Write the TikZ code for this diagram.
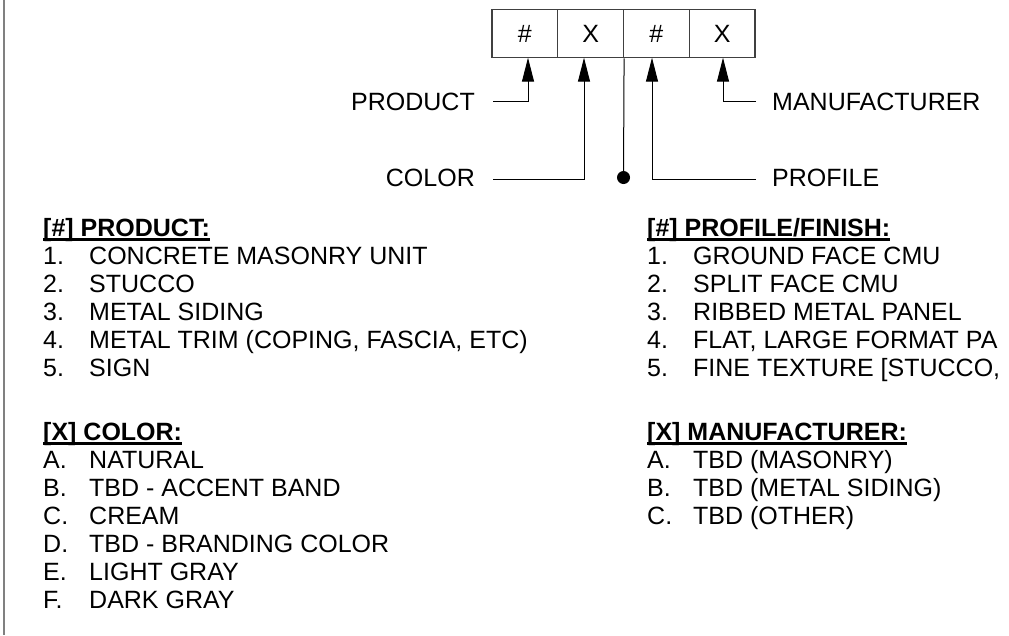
\documentclass[tikz,border=0pt]{standalone}
\usepackage{fontspec}
\setmainfont{Liberation Sans}
\usetikzlibrary{arrows.meta}
\begin{document}
\begin{tikzpicture}[x=1pt,y=-1pt,
  font=\fontsize{25}{28}\selectfont,
  cell/.style={draw=black!75, line width=1.2pt, minimum width=65.75pt, minimum height=48.2pt, inner sep=0pt},
  lblL/.style={inner sep=0pt, anchor=base east},
  lblR/.style={inner sep=0pt, anchor=base west},
  item/.style={inner sep=0pt, anchor=base west},
  hdr/.style={inner sep=0pt, anchor=base west, font=\fontsize{25}{28}\selectfont\bfseries},
  ul/.style={line width=2.2pt},
  lead/.style={line width=1pt},
  tipped/.style={lead, -{Triangle[length=24pt,width=12pt]}},
  dotnode/.style={circle, fill=black, inner sep=0pt, minimum size=13pt},
  border/.style={draw=black!50, line width=2pt}
]
\clip (0,0) rectangle (1009,635);
\fill[white] (0,0) rectangle (1009,635);
% left border
\coordinate (bt) at (3.7,0);
\coordinate (bb) at (3.7,635);
\draw[border] (bt) -- (bb);

% code cells
\node[cell] (c1) at (524.9,33.6) {\#};
\node[cell] (c2) at (590.6,33.6) {X};
\node[cell] (c3) at (656.4,33.6) {\#};
\node[cell] (c4) at (722.1,33.6) {X};

% labels
\node[lblL] (lprod) at (475,110) {PRODUCT};
\node[lblL] (lcol) at (475,186) {COLOR};
\node[lblR] (lman) at (772,110) {MANUFACTURER};
\node[lblR] (lprof) at (772,186) {PROFILE};

% leader ends and arrow tips
\coordinate (eprod) at (493,101);
\coordinate (ecol) at (493,179);
\coordinate (eman) at (756,101.5);
\coordinate (eprof) at (756,179);
\coordinate (tprod) at (528,57.7);
\coordinate (tcol) at (584,57.7);
\coordinate (tprof) at (652,57.7);
\coordinate (tman) at (723,57.7);

\draw[tipped] (eprod) -| (tprod);
\draw[tipped] (ecol) -| (tcol);
\draw[tipped] (eprof) -| (tprof);
\draw[tipped] (eman) -| (tman);

% center line and dot
\node[dotnode] (dot) at (623.5,177.5) {};
\draw[lead] (c2.south east) -- (dot.center);

% PRODUCT list
\node[hdr] (hprod) at (43,236) {[\#] PRODUCT:};
\draw[ul] ([yshift=-3.5pt]hprod.base west) -- ([yshift=-3.5pt]hprod.base east);
\node[item] (p1) at (43,264) {\makebox[46pt][l]{1.}CONCRETE MASONRY UNIT};
\node[item] (p2) at (43,292) {\makebox[46pt][l]{2.}STUCCO};
\node[item] (p3) at (43,320) {\makebox[46pt][l]{3.}METAL SIDING};
\node[item] (p4) at (43,348) {\makebox[46pt][l]{4.}METAL TRIM (COPING, FASCIA, ETC)};
\node[item] (p5) at (43,376) {\makebox[46pt][l]{5.}SIGN};

% COLOR list
\node[hdr] (hcol) at (43,440) {[X] COLOR:};
\draw[ul] ([yshift=-3.5pt]hcol.base west) -- ([yshift=-3.5pt]hcol.base east);
\node[item] (k1) at (43,468) {\makebox[46pt][l]{A.}NATURAL};
\node[item] (k2) at (43,496) {\makebox[46pt][l]{B.}TBD - ACCENT BAND};
\node[item] (k3) at (43,524) {\makebox[46pt][l]{C.}CREAM};
\node[item] (k4) at (43,552) {\makebox[46pt][l]{D.}TBD - BRANDING COLOR};
\node[item] (k5) at (43,580) {\makebox[46pt][l]{E.}LIGHT GRAY};
\node[item] (k6) at (43,608) {\makebox[46pt][l]{F.}DARK GRAY};

% PROFILE list
\node[hdr] (hprof) at (647,236) {[\#] PROFILE/FINISH:};
\draw[ul] ([yshift=-3.5pt]hprof.base west) -- ([yshift=-3.5pt]hprof.base east);
\node[item] (f1) at (647,264) {\makebox[46pt][l]{1.}GROUND FACE CMU};
\node[item] (f2) at (647,292) {\makebox[46pt][l]{2.}SPLIT FACE CMU};
\node[item] (f3) at (647,320) {\makebox[46pt][l]{3.}RIBBED METAL PANEL};
\node[item] (f4) at (647,348) {\makebox[46pt][l]{4.}FLAT, LARGE FORMAT PA};
\node[item] (f5) at (647,376) {\makebox[46pt][l]{5.}FINE TEXTURE [STUCCO,};

% MANUFACTURER list
\node[hdr] (hman) at (647,440) {[X] MANUFACTURER:};
\draw[ul] ([yshift=-3.5pt]hman.base west) -- ([yshift=-3.5pt]hman.base east);
\node[item] (m1) at (647,468) {\makebox[46pt][l]{A.}TBD (MASONRY)};
\node[item] (m2) at (647,496) {\makebox[46pt][l]{B.}TBD (METAL SIDING)};
\node[item] (m3) at (647,524) {\makebox[46pt][l]{C.}TBD (OTHER)};
\end{tikzpicture}
\end{document}
